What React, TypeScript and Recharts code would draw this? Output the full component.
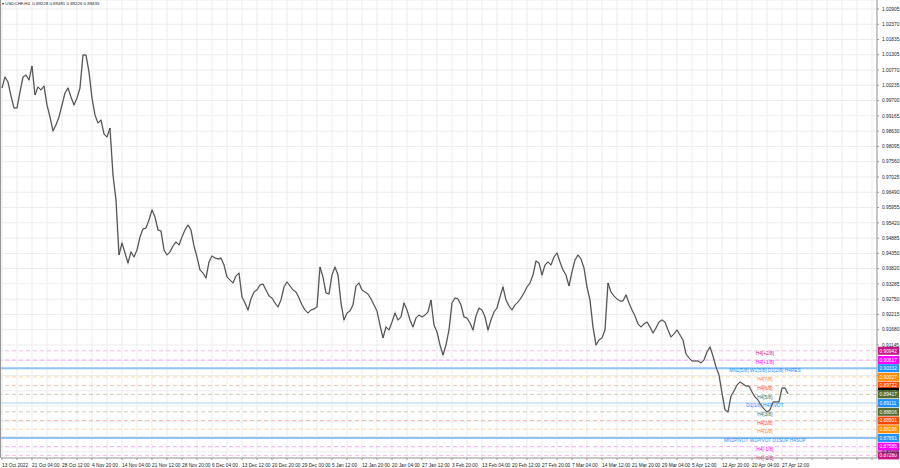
import React from "react";
import {
  ComposedChart,
  Line,
  XAxis,
  YAxis,
  CartesianGrid,
  ReferenceLine,
} from "recharts";

// ─── Data ───────────────────────────────────────────────────────────

// USDCHF H4 closes, one sample every ~3 bars, 13 Oct 2022 → 27 Apr 2023
const closes = [
  1.0014, 1.00525, 1.0035, 0.9986, 0.9944, 0.9944, 1.0, 1.00525, 1.00595, 1.0042,
  1.0091, 0.99895, 1.00175, 1.0007, 1.0021, 0.99545, 0.99125, 0.98635, 0.98845, 0.99125,
  0.99545, 0.99965, 1.0014, 0.99825, 0.99545, 0.9979, 1.0014, 1.01295, 1.01295, 1.007,
  0.9979, 0.99195, 0.98915, 0.9902, 0.9853, 0.98425, 0.9874, 0.97095, 0.9622, 0.94295,
  0.94715, 0.94365, 0.94015, 0.944, 0.94225, 0.9447, 0.94925, 0.95205, 0.9524, 0.9552,
  0.9587, 0.95625, 0.9517, 0.95135, 0.9447, 0.94295, 0.944, 0.9461, 0.9475, 0.94645,
  0.94925, 0.9517, 0.95345, 0.9517, 0.9461, 0.94225, 0.9377, 0.93665, 0.9349, 0.9405,
  0.9426, 0.9419, 0.94155, 0.9419, 0.93945, 0.93525, 0.9342, 0.93315, 0.9356, 0.93665,
  0.92825, 0.92615, 0.9237, 0.92755, 0.93, 0.9307, 0.93245, 0.9328, 0.9307, 0.9286,
  0.9279, 0.92615, 0.92475, 0.9272, 0.93175, 0.9335, 0.9321, 0.9307, 0.93, 0.9279,
  0.92545, 0.9237, 0.92265, 0.9237, 0.92405, 0.92475, 0.93875, 0.93525, 0.92965, 0.9293,
  0.93595, 0.93875, 0.93595, 0.92615, 0.9202, 0.92265, 0.92335, 0.92545, 0.9321, 0.93315,
  0.9307, 0.93, 0.9293, 0.92755, 0.92545, 0.92335, 0.91845, 0.9139, 0.91775, 0.9167,
  0.9195, 0.92265, 0.9202, 0.92125, 0.92615, 0.9237, 0.9202, 0.91775, 0.9209, 0.92195,
  0.92125, 0.92195, 0.923, 0.9272, 0.91845, 0.916, 0.91145, 0.90795, 0.91145, 0.9167,
  0.92615, 0.9279, 0.92755, 0.92545, 0.92125, 0.9209, 0.91915, 0.9167, 0.9216, 0.9244,
  0.9237, 0.92125, 0.9167, 0.9202, 0.923, 0.9244, 0.92825, 0.93175, 0.9272, 0.9251,
  0.9237, 0.92545, 0.9265, 0.9279, 0.92965, 0.93175, 0.93315, 0.93595, 0.94085, 0.94015,
  0.93595, 0.93945, 0.9405, 0.93945, 0.94225, 0.94365, 0.9405, 0.9377, 0.93595, 0.9321,
  0.937, 0.9412, 0.94295, 0.94155, 0.9384, 0.93175, 0.9272, 0.91775, 0.91145, 0.9132,
  0.9139, 0.9167, 0.93315, 0.93, 0.9286, 0.92755, 0.92685, 0.92685, 0.92895, 0.92615,
  0.9237, 0.9216, 0.9188, 0.91775, 0.9188, 0.9195, 0.91775, 0.91565, 0.9174, 0.9195,
  0.9202, 0.9195, 0.9167, 0.91425, 0.9153, 0.9167, 0.91495, 0.9132, 0.9083, 0.9069,
  0.90585, 0.90585, 0.90585, 0.90515, 0.9062, 0.909, 0.91075, 0.9076, 0.90375, 0.90095,
  0.89465, 0.8887, 0.888, 0.8936, 0.89535, 0.89745, 0.8985, 0.8978, 0.8971, 0.8971,
  0.895, 0.89325, 0.8922, 0.89045, 0.88905, 0.888, 0.8887, 0.8915, 0.8915, 0.8915,
  0.8964, 0.8964, 0.89435,
];

const timeLabels = [
  "13 Oct 2022", "21 Oct 04:00", "28 Oct 12:00", "4 Nov 20:00", "14 Nov 04:00",
  "21 Nov 12:00", "28 Nov 20:00", "6 Dec 04:00", "13 Dec 12:00", "20 Dec 20:00",
  "29 Dec 00:00", "5 Jan 12:00", "12 Jan 20:00", "20 Jan 04:00", "27 Jan 12:00",
  "3 Feb 20:00", "13 Feb 04:00", "20 Feb 12:00", "27 Feb 20:00", "7 Mar 04:00",
  "14 Mar 12:00", "21 Mar 20:00", "29 Mar 04:00", "5 Apr 12:00", "12 Apr 20:00",
  "20 Apr 04:00", "27 Apr 12:00",
];

const priceTicks = [
  1.02905, 1.0237, 1.01835, 1.01305, 1.0077, 1.00235, 0.997, 0.99165, 0.9863,
  0.98095, 0.9756, 0.97025, 0.9649, 0.95955, 0.9542, 0.94885, 0.9435, 0.9382,
  0.93285, 0.9275, 0.92215, 0.9168, 0.91145, 0.9061, 0.90075, 0.8954, 0.8901,
  0.88475, 0.8794, 0.87405,
];
// tick labels hidden behind the level price boxes
const coveredTicks = [0.9061, 0.90075, 0.8954, 0.8901, 0.88475, 0.8794];

// Murrey / pivot levels drawn by the indicator
const levelPrices = [
  0.90942, 0.90617, 0.90332, 0.90027, 0.89722, 0.89417, 0.89111, 0.88806,
  0.88501, 0.88196, 0.87891, 0.87585, 0.8728,
];
const levelNames = [
  "H4[+2/8]", "H4[+1/8]", "MN1[5/8] W1[5/8] D1[2/8] H4RES", "H4[7/8]", "H4[6/8]",
  "H4[5/8]", "D1[1/8] H4PIVOT", "H4[3/8]", "H4[2/8]", "H4[1/8]",
  "MN1PIVOT W1PIVOT D1SUP H4SUP", "H4[-1/8]", "H4[-2/8]",
];
const levelColors = [
  "#c71585", "#ff00ff", "#1e90ff", "#ff8c00", "#ff4500", "#556b2f", "#1e90ff",
  "#556b2f", "#ff4500", "#ff8c00", "#1e90ff", "#ff00ff", "#c71585",
];
const levelLineColors = [
  "#f4bde2", "#f3a9f3", "#8cc4f5", "#fcd8aa", "#f8bea8", "#c8cbb8", "#d2e7fb",
  "#c8cbb8", "#f8bea8", "#fcd8aa", "#8cc4f5", "#f3a9f3", "#f4bde2",
];
const solidLevels = [2, 6, 10];

const lastPrice = 0.89435;
const title = "USDCHF,H4  0.89228 0.89481 0.89226 0.89435";

const chartData = closes.map((c, i) => ({ slot: i, close: c }));
const slotTicks = Array.from({ length: 59 }, (_, i) => i * 5);

const FONT = "'Liberation Sans', Arial, sans-serif";

// ─── Ticks & labels ─────────────────────────────────────────────────

function TimeTick({ x, y, payload }: any) {
  const v = payload.value as number;
  if (v % 10 !== 0 || v / 10 >= timeLabels.length) return null;
  return (
    <text x={x} y={y + 5} fontSize={4.8} fill="#222" fontFamily={FONT}>
      {timeLabels[v / 10]}
    </text>
  );
}

function PriceTick({ x, y, payload }: any) {
  if (coveredTicks.includes(payload.value)) return null;
  return (
    <text x={x + 1} y={y + 1.7} fontSize={4.8} fill="#222" fontFamily={FONT}>
      {(payload.value as number).toFixed(5)}
    </text>
  );
}

function PriceBox({ x, y, color, price }: { x: number; y: number; color: string; price: number }) {
  return (
    <g>
      <rect x={x} y={y - 4} width={21} height={8} fill={color} />
      <text x={x + 1.5} y={y + 1.8} fontSize={4.8} fill="#fff" fontFamily={FONT}>
        {price.toFixed(5)}
      </text>
    </g>
  );
}

function LevelLabel({ viewBox, idx }: any) {
  const { x, y, width } = viewBox;
  const color = levelColors[idx];
  return (
    <g>
      <text
        x={x + width * 0.872}
        y={y + 4.2}
        textAnchor="middle"
        fontSize={4.8}
        fill={color}
        fontFamily={FONT}
      >
        {levelNames[idx]}
      </text>
      {idx === 5 && <PriceBox x={x + width + 1} y={y - 2.5} color="#000" price={lastPrice} />}
      <PriceBox x={x + width + 1} y={y} color={color} price={levelPrices[idx]} />
    </g>
  );
}

// ─── Chart ──────────────────────────────────────────────────────────

export default function App() {
  return (
    <div style={{ position: "relative", width: 900, height: 468, background: "#fff" }}>
      <style>{`body{margin:0;background:#fff}`}</style>
      <ComposedChart
        width={900}
        height={468}
        data={chartData}
        margin={{ top: 0, right: 0, left: 1, bottom: 0 }}
      >
        <CartesianGrid stroke="#ececec" strokeWidth={1} />
        <XAxis
          dataKey="slot"
          type="number"
          domain={[-0.33, 291.67]}
          allowDataOverflow
          ticks={slotTicks}
          interval={0}
          height={10}
          tickSize={2}
          tickLine={{ stroke: "#999" }}
          axisLine={{ stroke: "#999" }}
          tick={<TimeTick />}
        />
        <YAxis
          orientation="right"
          type="number"
          domain={[0.87189, 1.0322]}
          allowDataOverflow
          ticks={priceTicks}
          interval={0}
          width={23}
          tickSize={2}
          tickLine={{ stroke: "#999" }}
          axisLine={{ stroke: "#999" }}
          tick={<PriceTick />}
        />
        {levelPrices.map((p, i) => (
          <ReferenceLine
            key={p}
            y={p}
            stroke={levelLineColors[i]}
            strokeWidth={solidLevels.includes(i) ? 2 : 1}
            strokeDasharray={solidLevels.includes(i) ? undefined : "4 3"}
            label={<LevelLabel idx={i} />}
          />
        ))}
        {/* soft grey underlay standing in for the candle wicks */}
        <Line
          type="linear"
          dataKey="close"
          stroke="#c2c2c2"
          strokeWidth={1.7}
          dot={false}
          isAnimationActive={false}
        />
        <Line
          type="linear"
          dataKey="close"
          stroke="#2e2e2e"
          strokeWidth={0.8}
          dot={false}
          isAnimationActive={false}
        />
      </ComposedChart>
      <div
        style={{
          position: "absolute",
          left: 0,
          top: 0,
          width: 1,
          height: 458,
          background: "#999",
        }}
      />
      <div
        style={{
          position: "absolute",
          left: 2,
          top: 1,
          fontSize: 4.4,
          fontFamily: FONT,
          color: "#222",
          whiteSpace: "pre",
        }}
      >
        {"▾ " + title}
      </div>
    </div>
  );
}
